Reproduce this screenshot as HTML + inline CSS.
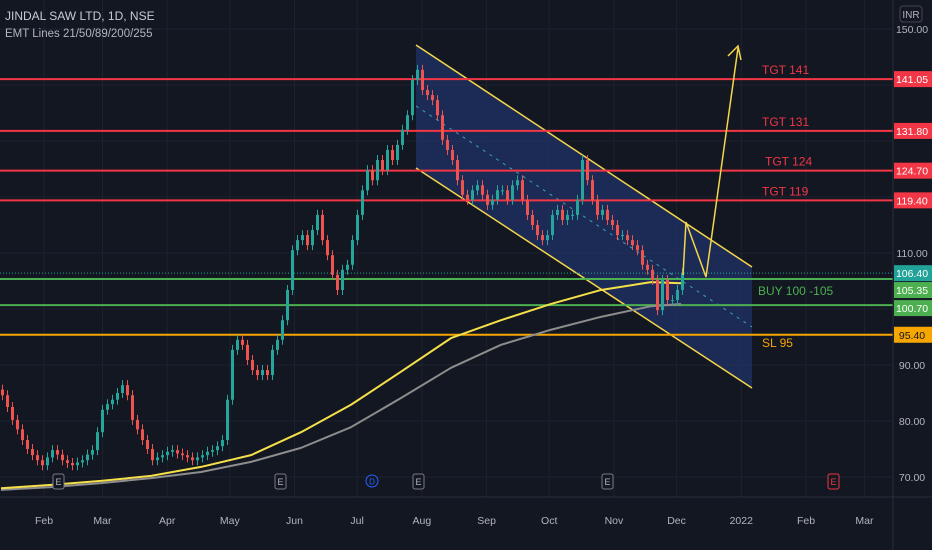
<!DOCTYPE html>
<html><head><meta charset="utf-8"><style>
body{margin:0;background:#131722;width:932px;height:550px;overflow:hidden;font-family:"Liberation Sans",sans-serif}
svg{display:block}
</style></head><body>
<svg id="chart" width="932" height="550" xmlns="http://www.w3.org/2000/svg">
<rect width="932" height="550" fill="#131722"/>
<g id="grid"></g>
<g id="channel">
<polygon points="416,45 752,267 752,388 416,168" fill="#1f3163" fill-opacity="0.8"/>
<line x1="416" y1="45" x2="752" y2="267" stroke="#f5d64a" stroke-width="1.5"/>
<line x1="416" y1="168" x2="752" y2="388" stroke="#f5d64a" stroke-width="1.5"/>
<line x1="416" y1="106" x2="752" y2="327" stroke="#3aa3b8" stroke-width="1" stroke-dasharray="3,5"/>
</g>
<g id="levels"></g>
<g id="emas"></g>
<g id="candles"></g>
<g>
<polyline points="683,275 686,222 706,277 738,48" fill="none" stroke="#f5d64a" stroke-width="1.5"/>
<polyline points="728,56 738,46 741,60" fill="none" stroke="#f5d64a" stroke-width="1.5"/>
</g>
<g id="axis"></g>
<line x1="0" y1="497" x2="932" y2="497" stroke="#2a2e39"/>
<line x1="893" y1="0" x2="893" y2="550" stroke="#2a2e39"/>
<g id="months"></g>
<g id="events"></g>
<text x="5" y="20" fill="#c8ccd4" font-size="12">JINDAL SAW LTD, 1D, NSE</text>
<text x="5" y="37" fill="#b2b5be" font-size="11.5">EMT Lines 21/50/89/200/255</text>
<rect x="900" y="6" width="22" height="16" rx="3" fill="none" stroke="#434651"/>
<text x="911" y="18" fill="#b2b5be" font-size="10" text-anchor="middle">INR</text>
</svg>
<script>
const closes=[84.6,82.5,80.2,78.5,76.6,75,73.9,73,72.1,73.5,74.8,74,73,72.5,72.1,72.6,73,74,74.8,78,82,83,83.8,85,86.4,84.6,80.2,78.5,76.6,75,73,73.5,73.9,74.5,74.8,74.2,73.9,73.5,73,73.5,73.9,74.5,74.8,75.5,76.6,83.8,92.7,94.5,93.6,90.9,89.1,88.2,89.1,88.2,92.7,94.5,98,103.4,110.5,112.3,113.2,111.4,114.1,116.8,112.3,109.6,106.1,103.4,107,107.9,112.3,116.8,121.2,124.8,123,126.6,124.8,128.4,126.6,129.3,132,134.6,140.9,142.7,139.1,138.2,137.3,134.6,130.2,128.4,126.6,123,120.4,119.5,121.2,122.1,120.4,118.6,119.5,121.2,121.2,119.5,122.1,123,119.5,116.8,115,113.2,112.3,113.2,116.8,117.7,115.9,116.8,116.8,119.5,126.6,123,119.5,116.8,117.7,115.9,115,113.2,113.2,112.3,111.4,110.5,107.9,107,105.2,99.8,105.2,101.6,101.6,103.4,106.4];
const emaIdx=[0,10,20,30,40,50,60,70,80,90,100,110,120,130,136];
const ema200=[68.0,68.6,69.3,70.2,71.8,73.9,78.0,82.9,88.8,94.8,98.0,100.9,103.4,104.8,104.6];
const ema255=[67.7,68.2,68.9,69.8,70.9,72.7,75.2,78.9,84.1,89.5,93.6,96.3,98.6,100.5,100.9];
const levelPrices=[141.05,131.80,124.70,119.40,105.35,100.70,95.40];
const levelLabels=["TGT 141","TGT 131","TGT 124","TGT 119","BUY 100 -105","","SL 95"];
const axisTicks=[150,110,90,80,70];
const months=["Feb","Mar","Apr","May","Jun","Jul","Aug","Sep","Oct","Nov","Dec","2022","Feb","Mar"];
const monthDays=[17,45,76,106,137,167,198,229,259,290,320,351,382,410];
const lastPrice=106.40;
const NS="http://www.w3.org/2000/svg";
const y=p=>29+(150-p)*5.6;
const x=i=>i*5+1;
const dx=d=>44+(d-17)*(806-44)/(382-17);
function mk(t,a,parent){const e=document.createElementNS(NS,t);for(const k in a)e.setAttribute(k,a[k]);parent.appendChild(e);return e;}
const grid=document.getElementById('grid');
[150,140,130,120,110,100,90,80,70].forEach(p=>{const l=mk('line',{x1:0,x2:893,y1:y(p),y2:y(p),stroke:'#1e222d'},grid);});
monthDays.forEach(d=>{const l=mk('line',{x1:dx(d),x2:dx(d),y1:0,y2:497,stroke:'#1e222d'},grid);});
const lv=document.getElementById('levels');
const colors=["#f23645","#f23645","#f23645","#f23645","#4caf50","#4caf50","#f7a600"];
const lblX=[762,762,765,762,758,0,762];
levelPrices.forEach((p,i)=>{const l=mk('line',{x1:0,x2:893,y1:y(p),y2:y(p),stroke:colors[i],'stroke-width':2},lv);
 if(levelLabels[i]){const t=mk('text',{x:lblX[i],y:i==6?y(p)+12:(i==4?y(p)+16:y(p)-5),fill:colors[i],'font-size':12},lv);t.textContent=levelLabels[i];}});
const ll=mk('line',{x1:0,x2:893,y1:y(lastPrice),y2:y(lastPrice),stroke:'#26a69a','stroke-dasharray':'1,2'},lv);
const em=document.getElementById('emas');
function path(arr,c,nm){let d='';arr.forEach((v,i)=>{d+=(i?'L':'M')+x(emaIdx[i])+','+y(v);});const p=mk('path',{d:d,fill:'none',stroke:c,'stroke-width':2,'stroke-linejoin':'round'},em);}
path(ema255,'#8d8d8d','ema-255');path(ema200,'#f5e04a','ema-200');
const cg=document.getElementById('candles');
closes.forEach((c,i)=>{const o=i?closes[i-1]:c+1;const up=c>=o;const col=up?'#26a69a':'#ef5350';
 const top=y(Math.max(o,c)),bot=y(Math.min(o,c));
 const w=mk('line',{x1:x(i)+1.5,x2:x(i)+1.5,y1:top-5,y2:bot+5,stroke:col,'stroke-width':1},cg);
 const r=mk('rect',{x:x(i),y:top,width:3,height:Math.max(1,bot-top),fill:col},cg);});
const ax=document.getElementById('axis');
axisTicks.forEach(p=>{const t=mk('text',{x:912,y:y(p)+4,fill:'#b2b5be','font-size':10.5,'text-anchor':'middle'},ax);t.textContent=p.toFixed(2);});
const boxP=levelPrices.concat([lastPrice]);const boxC=colors.concat(['#22a39a']);
boxP.forEach((p,i)=>{let cy=y(p);if(i==4)cy+=11;if(i==5)cy+=3;
 const r=mk('rect',{x:894,y:cy-8,width:38,height:16,fill:boxC[i]},ax);
 const t=mk('text',{x:912,y:cy+4,fill:i==6?'#131722':'#fff','font-size':10.5,'text-anchor':'middle'},ax);t.textContent=p.toFixed(2);});
const mg=document.getElementById('months');
months.forEach((m,i)=>{const t=mk('text',{x:dx(monthDays[i]),y:524,fill:'#b2b5be','font-size':10.5,'text-anchor':'middle'},mg);t.textContent=m;});
const ev=document.getElementById('events');
const evX=[58,280,418,607,833],evC=['#787b86','#787b86','#787b86','#787b86','#f23645'];
evX.forEach((e,i)=>{const r=mk('rect',{x:e-5,y:474,width:11,height:15,rx:2,fill:'#131722',stroke:evC[i]},ev);
 const t=mk('text',{x:e+0.5,y:485,fill:i==4?'#f23645':'#b2b5be','font-size':9,'text-anchor':'middle'},ev);t.textContent='E';});
const dc=mk('circle',{cx:372,cy:481,r:6,fill:'#131722',stroke:'#2962ff'},ev);
const dt=mk('text',{x:372,y:484.5,fill:'#2962ff','font-size':8,'text-anchor':'middle'},ev);dt.textContent='D';
</script>
</body></html>
